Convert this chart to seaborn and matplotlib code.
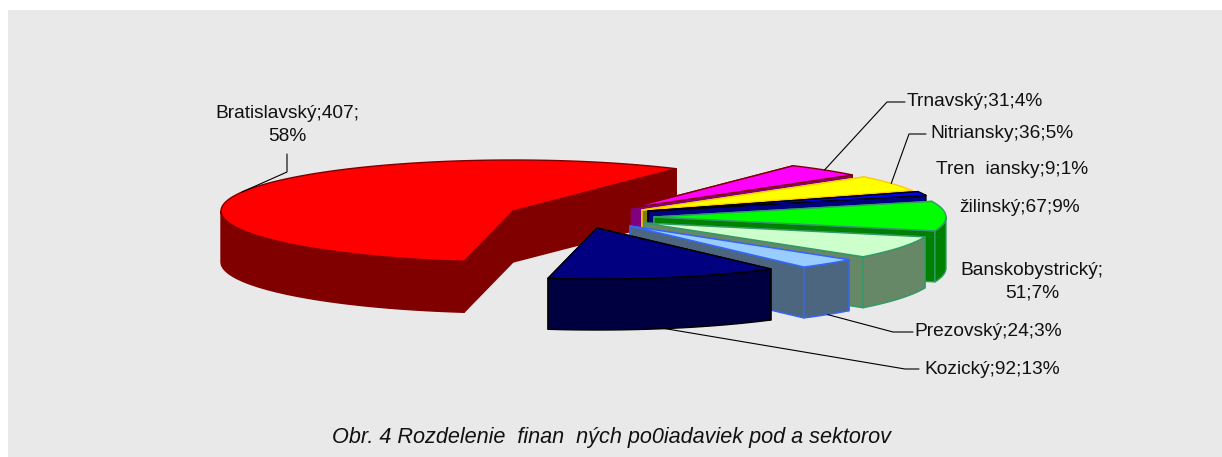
import numpy as np
import matplotlib.pyplot as plt
from matplotlib.patches import Rectangle
import seaborn as sns

# Data, counter clockwise round the pie
regions = ['Bratislavský', 'Kozický', 'Prezovský', 'Banskobystrický', 'Žilinský',
           'Trenčiansky', 'Nitriansky', 'Trnavský']
values = [407, 92, 24, 51, 67, 9, 36, 31]
labels = ['Bratislavský;407;\n58%', 'Kozický;92;13%', 'Prezovský;24;3%', 'Banskobystrický;\n51;7%',
          'žilinský;67;9%', 'Tren  iansky;9;1%', 'Nitriansky;36;5%', 'Trnavský;31;4%']
caption = 'Obr. 4 Rozdelenie  finan  ných po0iadaviek pod a sektorov'

# Colours: top face, side face, outline
top_colors = ['#FF0000', '#000080', '#99CCFF', '#CCFFCC', '#00FF00', '#0000FF', '#FFFF00', '#FF00FF']
side_colors = ['#800000', '#000040', '#4D6680', '#668866', '#008000', '#000080', '#808000', '#800080']
edge_colors = ['#800000', '#000000', '#3366FF', '#339966', '#339966', '#000000', '#FFCC00', '#800000']

# Layout in pixels: exploded apex of every slice, pie radii and depth
apex_x = [513, 597, 630, 644, 654, 648, 642, 630]
apex_y = [211, 228, 226, 223, 217, 211, 210, 208]
rx, ry, depth = 292, 51, 51
start_angle = 56.0

# Back to front
draw_order = [0, 7, 6, 5, 4, 3, 2, 1]

# Label centres and leader elbows (None = no leader)
label_pos = [(287, 125), (992, 369), (988, 332), (1032, 282), (1020, 208),
             (1012, 169), (1002, 134), (975, 102)]
elbows = [[(287, 154), (287, 172)], [(919, 369), (905, 369)], [(913, 332), (893, 332)], None,
          None, None, [(926, 134), (909, 134)], [(905, 102), (887, 102)]]

sns.set_theme(style='white', rc={'font.family': ['Liberation Sans', 'DejaVu Sans']})

fig = plt.figure(figsize=(12.22, 4.57), dpi=100, facecolor='white')
ax = fig.add_axes([0, 0, 1, 1])
ax.set_xlim(0, 1222)
ax.set_ylim(457, 0)
ax.axis('off')
ax.add_patch(Rectangle((8, 10), 1214, 447, facecolor='#E9E9E9', edgecolor='none', zorder=0))


def rim(cx, cy, angle):
    # point on the top ellipse, angle in degrees, counter clockwise
    a = np.radians(angle)
    return cx + rx * np.cos(a), cy - ry * np.sin(a)


def face(xs, ys, side, edge, lw):
    # extrude a top edge downwards to a closed side face
    xs, ys = np.asarray(xs), np.asarray(ys)
    ax.fill(np.r_[xs, xs[::-1]], np.r_[ys, ys[::-1] + depth],
            facecolor=side, edgecolor=edge, linewidth=lw, joinstyle='round')


spans = np.array(values) / sum(values) * 360
ends = start_angle + np.cumsum(spans)
starts = ends - spans

mid_points = {}
for i in draw_order:
    cx, cy = apex_x[i], apex_y[i]
    t0, t1 = starts[i], ends[i]
    lw = 1.0
    px0, py0 = rim(cx, cy, t0)
    px1, py1 = rim(cx, cy, t1)

    # hidden cut faces go first
    cut_start = ([cx, px0], [cy, py0], bool(np.cos(np.radians(t0)) > 0))
    cut_end = ([px1, cx], [py1, cy], bool(np.cos(np.radians(t1)) < 0))
    for xs, ys, visible in sorted([cut_start, cut_end], key=lambda c: c[2]):
        face(xs, ys, side_colors[i], edge_colors[i], lw)

    # outer rim, only the parts turned to the viewer
    for lo, hi in [(180, 360), (540, 720)]:
        a0, a1 = max(t0, lo), min(t1, hi)
        if a1 > a0:
            arc = np.linspace(a0, a1, 80)
            face(*rim(cx, cy, arc), side_colors[i], edge_colors[i], lw)

    # top face
    arc = np.linspace(t0, t1, 200)
    ax_, ay_ = rim(cx, cy, arc)
    ax.fill(np.r_[cx, ax_], np.r_[cy, ay_], facecolor=top_colors[i],
            edgecolor=edge_colors[i], linewidth=lw, joinstyle='round')

    mid = (t0 + t1) / 2
    mx, my = rim(cx, cy, mid)
    if np.sin(np.radians(mid)) < 0:
        my += depth
    mid_points[i] = (mx, my)

# Labels and leaders
for i, text in enumerate(labels):
    ax.text(label_pos[i][0], label_pos[i][1], text, ha='center', va='center',
            fontsize=13.8, color='#111111', linespacing=1.45)
    if elbows[i] is not None:
        pts = elbows[i] + [mid_points[i]]
        ax.plot([p[0] for p in pts], [p[1] for p in pts], color='black', lw=0.8, zorder=5)

ax.text(611, 438, caption, ha='center', va='center', fontsize=15.6, style='italic', color='#111111')

fig.savefig('out.png', dpi=100)
